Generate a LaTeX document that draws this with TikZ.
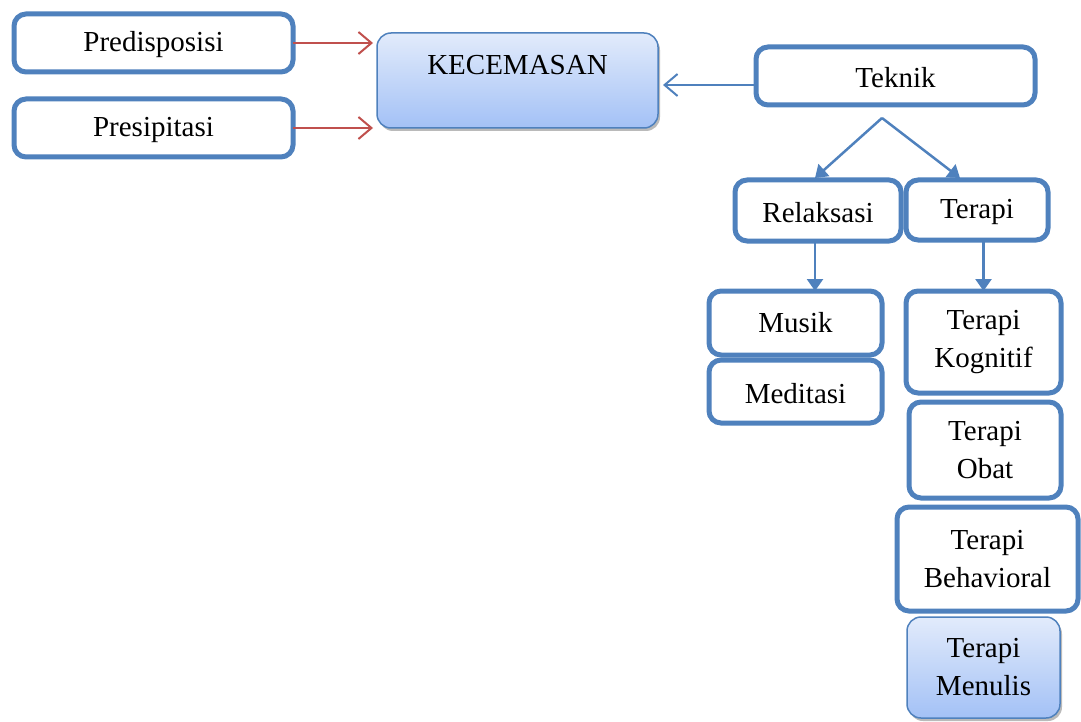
\documentclass[tikz,border=0pt]{standalone}
\usepackage{fontspec}
\setmainfont{Liberation Serif}
\usetikzlibrary{arrows.meta,shadows}
\definecolor{boxblue}{HTML}{4F81BD}
\definecolor{arrred}{HTML}{C0504D}
\definecolor{gradtop}{HTML}{E2EBFB}
\definecolor{gradbot}{HTML}{A3C1F6}
\begin{document}
\begin{tikzpicture}[x=1pt,y=-1pt,
  font=\fontsize{29}{38}\selectfont,
  thickbox/.style={draw=boxblue, line width=5pt, rounded corners=12pt, fill=white,
    inner sep=0pt, outer sep=0pt, align=center},
  oneline/.style={text height=24pt},
  fillbox/.style={draw=boxblue, line width=1.5pt, rounded corners=14pt,
    top color=gradtop, bottom color=gradbot, inner sep=0pt, outer sep=0pt, align=center,
    drop shadow={shadow xshift=2pt, shadow yshift=-3pt, fill=black!45, opacity=0.6}},
  redarr/.style={draw=arrred, line width=2pt, -{Straight Barb[length=13pt,width=22pt,line width=2pt]}},
  bluearr/.style={draw=boxblue, line width=2pt, -{Straight Barb[length=13pt,width=22pt,line width=2pt]}},
  triarr/.style={draw=boxblue, line width=2.5pt, -{Triangle[length=12pt,width=16pt]}}
]
\useasboundingbox (0,0) rectangle (1081,722);
% left boxes
\node[thickbox, oneline, minimum width=279pt, minimum height=58pt] (pred) at (153.5,43) {Predisposisi};
\node[thickbox, oneline, minimum width=279pt, minimum height=58pt] (pres) at (153.5,128) {Presipitasi};
% central box
\node[fillbox, minimum width=281pt, minimum height=95pt] (kec) at (517.5,80.5) {};
\node[anchor=center] (kect) at (517.5,65) {KECEMASAN};
% Teknik
\node[thickbox, oneline, minimum width=279pt, minimum height=58pt] (tek) at (895.5,76) {Teknik};
% second level
\node[thickbox, oneline, minimum width=166pt, minimum height=61pt] (rel) at (818,210.5) {Relaksasi};
\node[thickbox, oneline, minimum width=142pt, minimum height=60pt] (ter) at (977,210) {Terapi};
% third level
\node[thickbox, minimum width=173pt, minimum height=64pt] (mus) at (795.5,323) {Musik};
\node[thickbox, oneline, minimum width=173pt, minimum height=63pt] (med) at (795.5,391.5) {Meditasi};
\node[thickbox, minimum width=155pt, minimum height=102pt] (kog) at (983.5,342) {Terapi\\Kognitif};
\node[thickbox, minimum width=152pt, minimum height=96pt] (obat) at (985,450) {Terapi\\Obat};
\node[thickbox, minimum width=181pt, minimum height=104pt] (beh) at (987.5,559) {Terapi\\Behavioral};
\node[fillbox, minimum width=153pt, minimum height=101pt] (men) at (983.5,667.5) {Terapi\\Menulis};
% connectors
\draw[redarr, shorten >=4pt] (pred.east) -- (pred.east -| kec.west);
\draw[redarr, shorten >=4pt] (pres.east) -- (pres.east -| kec.west);
\draw[bluearr, shorten >=5pt] ([yshift=-9pt]tek.west) -- ([yshift=-9pt]tek.west -| kec.east);
\coordinate (fork) at (882,118);
\draw[triarr] (fork) -- ([xshift=-3pt,yshift=2pt]rel.north);
\draw[triarr] (fork) -- ([xshift=-17pt,yshift=2pt]ter.north);
\draw[triarr] ([xshift=-3pt]rel.south) -- ([xshift=-3pt]rel.south |- mus.north);
\draw[triarr] (kog.north |- ter.south) -- (kog.north);
\end{tikzpicture}
\end{document}
